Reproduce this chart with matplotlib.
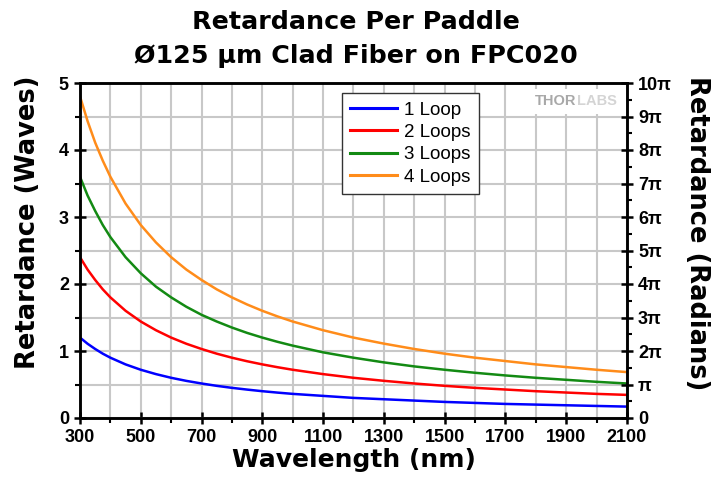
import matplotlib
matplotlib.use("Agg")
import matplotlib.pyplot as plt
from matplotlib.ticker import MultipleLocator, FixedLocator

plt.rcParams['font.family'] = ['Liberation Sans', 'DejaVu Sans']

wavelength = [300, 325, 350, 375, 400, 450, 500, 550, 600, 650, 700, 750, 800,
              850, 900, 950, 1000, 1100, 1200, 1300, 1400, 1500, 1600, 1700,
              1800, 1900, 2000, 2100]
loop1 = [1.20, 1.108, 1.03, 0.96, 0.90, 0.80, 0.72, 0.655, 0.60, 0.554, 0.515,
         0.48, 0.45, 0.424, 0.40, 0.379, 0.36, 0.33, 0.30, 0.28, 0.26, 0.24,
         0.225, 0.21, 0.20, 0.19, 0.18, 0.17]
loop2 = [2.40, 2.215, 2.06, 1.92, 1.80, 1.60, 1.44, 1.31, 1.20, 1.108, 1.03,
         0.96, 0.90, 0.847, 0.80, 0.758, 0.72, 0.655, 0.60, 0.555, 0.515, 0.48,
         0.45, 0.425, 0.40, 0.38, 0.36, 0.345]
loop3 = [3.60, 3.32, 3.09, 2.88, 2.70, 2.40, 2.16, 1.96, 1.80, 1.66, 1.54,
         1.44, 1.35, 1.27, 1.20, 1.137, 1.08, 0.98, 0.90, 0.83, 0.77, 0.72,
         0.675, 0.635, 0.60, 0.57, 0.54, 0.515]
loop4 = [4.80, 4.43, 4.11, 3.84, 3.60, 3.20, 2.88, 2.62, 2.40, 2.215, 2.06,
         1.92, 1.80, 1.694, 1.60, 1.516, 1.44, 1.31, 1.20, 1.11, 1.03, 0.96,
         0.90, 0.85, 0.80, 0.76, 0.72, 0.685]
series = [("1 Loop", loop1, "#0000FF"), ("2 Loops", loop2, "#FF0000"),
          ("3 Loops", loop3, "#138A13"), ("4 Loops", loop4, "#FF8C1A")]
x_ticks = [300, 500, 700, 900, 1100, 1300, 1500, 1700, 1900, 2100]
right_labels = ["0", "π", "2π", "3π", "4π", "5π", "6π", "7π", "8π", "9π", "10π"]

BIG = 'DejaVu Sans'

fig = plt.figure(figsize=(7.12, 4.88), dpi=100)
ax = fig.add_axes([80/712, 1-418/488, (627-80)/712, (418-83)/488])

for name, vals, col in series:
    ax.plot(wavelength, vals, color=col, lw=1.8, label=name)

ax.set_xlim(300, 2100)
ax.set_ylim(0, 5)
ax.xaxis.set_major_locator(FixedLocator(x_ticks))
ax.xaxis.set_minor_locator(MultipleLocator(100))
ax.yaxis.set_major_locator(MultipleLocator(1))
ax.yaxis.set_minor_locator(MultipleLocator(0.5))
ax.grid(True, which='both', color='#c8c8c8', lw=1.5)
ax.set_axisbelow(True)
for s in ax.spines.values():
    s.set_linewidth(1.8)
    s.set_color('black')
ax.tick_params(which='major', direction='inout', length=9, width=1.8,
               labelsize=13)
ax.tick_params(which='minor', direction='out', length=3.5, width=1.5)
for lbl in ax.get_xticklabels() + ax.get_yticklabels():
    lbl.set_fontweight('bold')

ax.set_xlabel("Wavelength (nm)", fontsize=18, fontweight='bold', family=BIG,
              labelpad=1)
ax.set_ylabel("Retardance (Waves)", fontsize=18.5, fontweight='bold', family=BIG,
              va='center')
ax.yaxis.set_label_coords(-0.095, 0.585)

ax2 = ax.twinx()
ax2.set_ylim(0, 10)
ax2.yaxis.set_major_locator(FixedLocator(range(11)))
ax2.set_yticklabels(right_labels)
ax2.yaxis.set_minor_locator(MultipleLocator(0.5))
ax2.tick_params(which='major', direction='inout', length=9, width=1.8,
                labelsize=13)
ax2.tick_params(which='minor', direction='out', length=3.5, width=1.5)
for lbl in ax2.get_yticklabels():
    lbl.set_fontweight('bold')
for s in ax2.spines.values():
    s.set_linewidth(1.8)
ax2.set_ylabel("Retardance (Radians)", fontsize=18.5, fontweight='bold',
               family=BIG, rotation=-90, va='center')
ax2.yaxis.set_label_coords(1.128, 0.552)

leg = ax.legend(loc='upper left', bbox_to_anchor=((342-80)/547, 1-(93-83)/335),
                fontsize=13.5, frameon=True, fancybox=False, framealpha=1,
                edgecolor='#333333', handlelength=2.5, borderpad=0.45,
                labelspacing=0.28, handletextpad=0.35, borderaxespad=0)
leg.get_frame().set_linewidth(1.0)
for line in leg.get_lines():
    line.set_linewidth(2.2)

# watermark
ax.text(0.91, 0.945, " " * 20, transform=ax.transAxes, ha='center', va='center',
        fontsize=11, bbox=dict(facecolor='white', edgecolor='none', pad=4), zorder=1.5)
ax.text(0.908, 0.945, "THOR", transform=ax.transAxes, ha='right', va='center',
        fontsize=10.5, fontweight='bold', color='#a8a8a8', zorder=3)
ax.text(0.908, 0.945, "LABS", transform=ax.transAxes, ha='left', va='center',
        fontsize=10.5, fontweight='bold', color='#d4d4d4', zorder=3)

fig.text(0.5, 1-22/488, "Retardance Per Paddle", ha='center', va='center',
         fontsize=18.3, fontweight='bold', family=BIG)
fig.text(0.5, 1-56/488, "Ø125 µm Clad Fiber on FPC020", ha='center', va='center',
         fontsize=18.3, fontweight='bold', family=BIG)

fig.savefig("out.png", dpi=100)
